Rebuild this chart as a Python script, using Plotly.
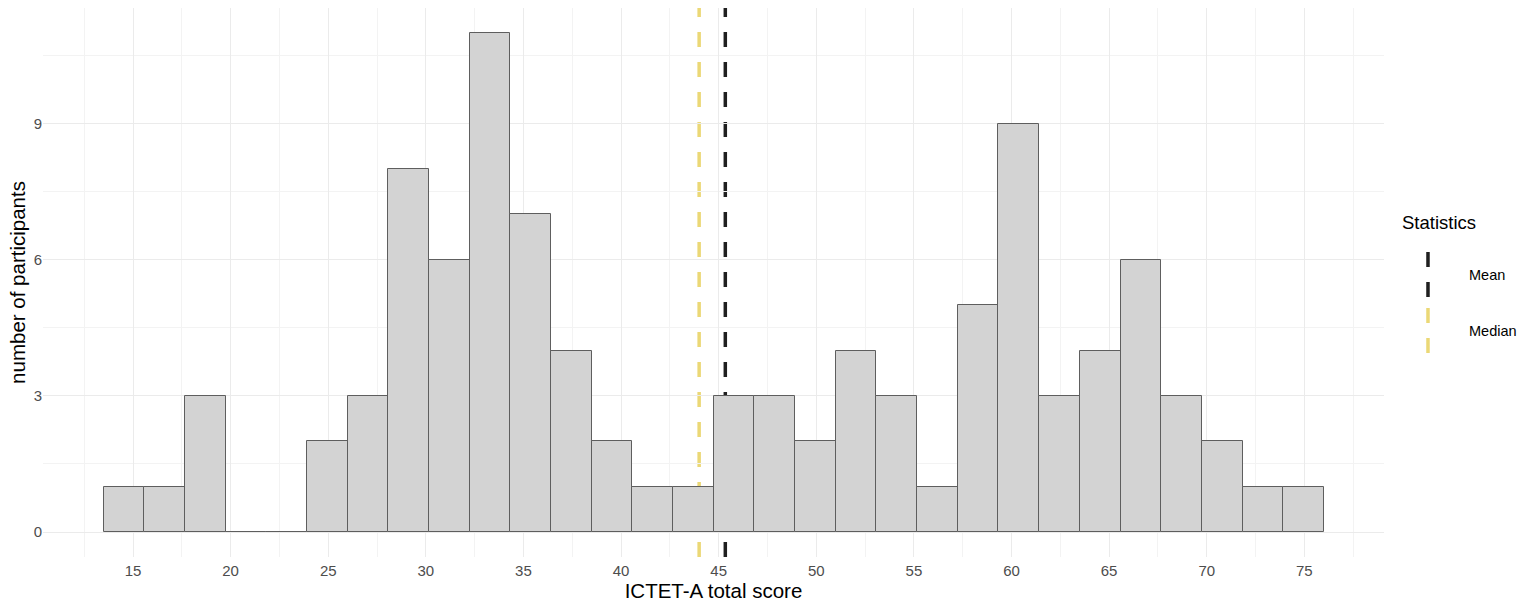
import plotly.graph_objects as go

# ---- data ----
bin_start = 13.5
bin_width = 2.0833
counts = [1, 1, 3, 0, 0, 2, 3, 8, 6, 11, 7, 4, 2, 1, 1,
          3, 3, 2, 4, 3, 1, 5, 9, 3, 4, 6, 3, 2, 1, 1]
mean_score = 45.34
median_score = 44.0
stat_names = ["Mean", "Median"]
stat_colors = ["#1f1f1f", "#EBD876"]
x_ticks = [15, 20, 25, 30, 35, 40, 45, 50, 55, 60, 65, 70, 75]
y_ticks = [0, 3, 6, 9]

centers = [bin_start + bin_width * (i + 0.5) for i in range(len(counts))]

FONT = "Liberation Sans, Arial"

fig = go.Figure()
fig.add_trace(go.Bar(
    x=centers, y=counts, width=bin_width,
    marker=dict(color="#D3D3D3", line=dict(color="#5E5E5E", width=1)),
    showlegend=False, hoverinfo="x+y",
))

# mean / median lines (behind bars)
for val, col in zip([mean_score, median_score], stat_colors):
    fig.add_shape(type="line", xref="x", yref="y domain",
                  x0=val, x1=val, y0=0, y1=1, layer="below",
                  line=dict(color=col, width=3.5, dash="15px,15px"))

fig.update_xaxes(
    range=[10.39, 79.08], tickvals=x_ticks, ticktext=[str(t) for t in x_ticks],
    showgrid=True, gridcolor="#EBEBEB", gridwidth=1, zeroline=False,
    showline=False, ticks="", automargin=False, ticklabelstandoff=3,
    minor=dict(dtick=5, tick0=12.5, showgrid=True, gridcolor="#F3F3F3", gridwidth=0.6),
    tickfont=dict(family=FONT, size=15, color="#4D4D4D"),
    title=dict(text="ICTET-A total score", standoff=2,
               font=dict(family=FONT, size=20.5, color="#000000")),
)
fig.update_yaxes(
    range=[-0.55, 11.55], tickvals=y_ticks, ticktext=[str(t) for t in y_ticks],
    showgrid=True, gridcolor="#EBEBEB", gridwidth=1, zeroline=False,
    showline=False, ticks="", automargin=False,
    minor=dict(dtick=3, tick0=1.5, showgrid=True, gridcolor="#F3F3F3", gridwidth=0.6),
    tickfont=dict(family=FONT, size=15, color="#4D4D4D"),
    title=dict(text="number of participants", standoff=2,
               font=dict(family=FONT, size=20.5, color="#000000")),
)

# custom legend with vertical dashed keys
fig.add_annotation(xref="paper", yref="paper", x=1.0119, y=0.6102,
                   text="Statistics", showarrow=False, xanchor="left", yanchor="middle",
                   font=dict(family=FONT, size=18.5, color="#000000"))
key_y = [(0.5556, 0.4718), (0.4536, 0.3679)]
for name, col, (ya, yb) in zip(stat_names, stat_colors, key_y):
    fig.add_shape(type="line", xref="paper", yref="paper",
                  x0=1.0328, x1=1.0328, y0=ya, y1=yb,
                  line=dict(color=col, width=3.5, dash="15px,15px"))
    fig.add_annotation(xref="paper", yref="paper", x=1.0619, y=(ya + yb) / 2,
                       text=name, showarrow=False, xanchor="left", yanchor="middle",
                       font=dict(family=FONT, size=14.5, color="#000000"))

fig.update_layout(
    width=1531, height=604,
    margin=dict(l=43, r=147, t=8, b=47),
    plot_bgcolor="white", paper_bgcolor="white",
    bargap=0, showlegend=False,
)

fig.write_html("out.html", config={"displayModeBar": False},
               post_script="document.body.style.margin='0';document.body.style.overflow='hidden';")
